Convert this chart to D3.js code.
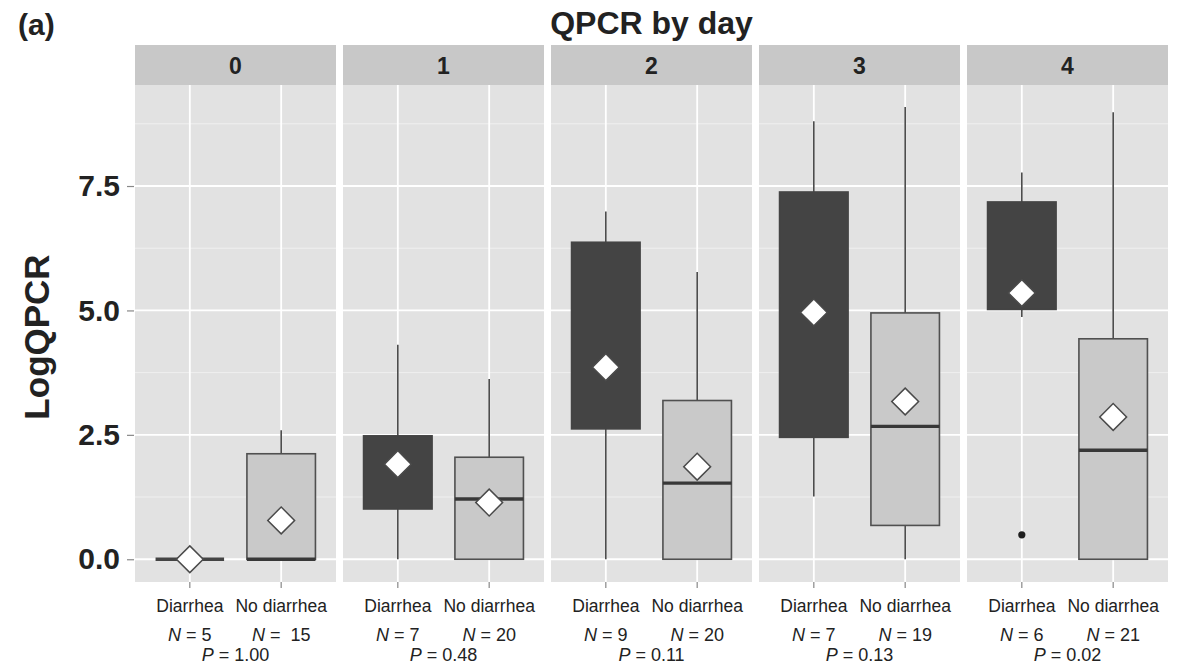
<!DOCTYPE html>
<html>
<head>
<meta charset="utf-8">
<script src="https://cdn.jsdelivr.net/npm/d3@7"></script>
<style>
  body { margin: 0; background: #fff; }
  svg { display: block; font-family: "Liberation Sans", Arial, sans-serif; }
</style>
</head>
<body>
<svg id="svg"></svg>
<script>
// facets and groups
const days = ["0", "1", "2", "3", "4"];
const groups = ["Diarrhea", "No diarrhea"];
// box stats per day: [Diarrhea, No diarrhea]
const whiskerLow = [[0, 0], [0, 0], [0, 0], [1.26, 0], [4.87, 0]];
const q1 = [[0, 0], [1.01, 0], [2.62, 0], [2.45, 0.68], [5.02, 0]];
const medians = [[0, 0], [1.7, 1.21], [4.2, 1.53], [5.3, 2.67], [5.6, 2.19]];
const q3 = [[0, 2.12], [2.48, 2.05], [6.37, 3.19], [7.38, 4.95], [7.18, 4.43]];
const whiskerHigh = [[0, 2.59], [4.31, 3.62], [6.99, 5.77], [8.80, 9.09], [7.77, 8.98]];
const means = [[0, 0.78], [1.91, 1.14], [3.86, 1.86], [4.96, 3.17], [5.35, 2.86]];
const outliers = [[[], []], [[], []], [[], []], [[], []], [[0.49], []]];
const nCounts = [["5", "15"], ["7", "20"], ["9", "20"], ["7", "19"], ["6", "21"]];
const pValues = ["1.00", "0.48", "0.11", "0.13", "0.02"];
const yTicks = [0, 2.5, 5, 7.5];
const yMinor = [1.25, 3.75, 6.25, 8.75];

const width = 1190, height = 666;
const plotTop = 85, plotBottom = 582, plotLeft = 135, plotRight = 1168;

const svg = d3.select("#svg").attr("width", width).attr("height", height);

const y = d3.scaleLinear().domain([-0.457, 9.53]).range([plotBottom, plotTop]);
const fx = d3.scaleBand().domain(days).range([plotLeft, plotRight]).paddingInner(7 / 208);
const x = d3.scalePoint().domain(groups).range([0, fx.bandwidth()]).padding(0.6);
const boxW = x.step() * 0.75;

const fill = d3.scaleOrdinal().domain(groups).range(["#444444", "#c9c9c9"]);
const edge = d3.scaleOrdinal().domain(groups).range(["#444444", "#505050"]);
const medCol = d3.scaleOrdinal().domain(groups).range(["#444444", "#383838"]);

// build rows
const rows = [];
days.forEach((d, i) => groups.forEach((g, j) => rows.push({
  day: d, group: g, lo: whiskerLow[i][j], q1: q1[i][j], med: medians[i][j],
  q3: q3[i][j], hi: whiskerHigh[i][j], mean: means[i][j], out: outliers[i][j]
})));

// title and tag
svg.append("text").attr("x", 18).attr("y", 35).attr("font-size", 30).attr("font-weight", "bold")
  .attr("fill", "#222").text("(a)");
svg.append("text").attr("x", (plotLeft + plotRight) / 2).attr("y", 34).attr("text-anchor", "middle")
  .attr("font-size", 32).attr("font-weight", "bold").attr("fill", "#222").text("QPCR by day");

// y axis title
svg.append("text").attr("transform", `translate(49,337) rotate(-90)`)
  .attr("text-anchor", "middle").attr("font-size", 35).attr("font-weight", "bold")
  .attr("fill", "#222").text("LogQPCR");

// y axis
const yAxis = svg.append("g").attr("transform", `translate(${plotLeft},0)`)
  .call(d3.axisLeft(y).tickValues(yTicks).tickFormat(d3.format(".1f")).tickSize(7).tickPadding(8));
yAxis.select(".domain").remove();
yAxis.selectAll("line").attr("stroke", "#888").attr("stroke-width", 1.2).attr("transform", "translate(-1,0)");
yAxis.selectAll("text").attr("font-size", 30).attr("font-weight", "bold").attr("fill", "#222")
  .attr("font-family", "Liberation Sans, Arial, sans-serif");

const panels = svg.selectAll("g.panel").data(days).join("g")
  .attr("class", "panel").attr("transform", d => `translate(${fx(d)},0)`);

// strips
panels.append("rect").attr("y", 45).attr("width", fx.bandwidth()).attr("height", plotTop - 45)
  .attr("fill", "#c8c8c8");
panels.append("text").attr("x", fx.bandwidth() / 2).attr("y", 74).attr("text-anchor", "middle")
  .attr("font-size", 23).attr("font-weight", "bold").attr("fill", "#222").text(d => d);

// background
panels.append("rect").attr("y", plotTop).attr("width", fx.bandwidth()).attr("height", plotBottom - plotTop)
  .attr("fill", "#e2e2e2");

// grid
panels.each(function () {
  const g = d3.select(this);
  g.selectAll("line.minor").data(yMinor).join("line").attr("class", "minor")
    .attr("x1", 0).attr("x2", fx.bandwidth()).attr("y1", d => y(d)).attr("y2", d => y(d))
    .attr("stroke", "#f2f2f2").attr("stroke-width", 0.9);
  g.selectAll("line.major").data(yTicks).join("line").attr("class", "major")
    .attr("x1", 0).attr("x2", fx.bandwidth()).attr("y1", d => y(d)).attr("y2", d => y(d))
    .attr("stroke", "#fff").attr("stroke-width", 1.8);
  g.selectAll("line.vgrid").data(groups).join("line").attr("class", "vgrid")
    .attr("x1", d => x(d)).attr("x2", d => x(d)).attr("y1", plotTop).attr("y2", plotBottom)
    .attr("stroke", "#fff").attr("stroke-width", 1.8);
  // x ticks
  g.selectAll("line.xtick").data(groups).join("line").attr("class", "xtick")
    .attr("x1", d => x(d)).attr("x2", d => x(d)).attr("y1", plotBottom).attr("y2", plotBottom + 6)
    .attr("stroke", "#888").attr("stroke-width", 1.2);
  g.selectAll("text.xlab").data(groups).join("text").attr("class", "xlab")
    .attr("x", d => x(d)).attr("y", 612).attr("text-anchor", "middle")
    .attr("font-size", 17.5).attr("fill", "#222").text(d => d);
});

// N and P labels
panels.each(function (d, i) {
  const g = d3.select(this);
  g.selectAll("text.n").data(groups).join("text").attr("class", "n")
    .attr("x", gr => x(gr)).attr("y", 641).attr("text-anchor", "middle")
    .attr("font-size", 18).attr("fill", "#222").style("white-space", "pre")
    .call(t => t.append("tspan").attr("font-style", "italic").text("N"))
    .call(t => t.append("tspan").text((gr, j) => (nCounts[i][j] === "15" ? " =  " : " = ") + nCounts[i][j]));
  g.append("text").attr("x", fx.bandwidth() / 2).attr("y", 661).attr("text-anchor", "middle")
    .attr("font-size", 18).attr("fill", "#222")
    .call(t => t.append("tspan").attr("font-style", "italic").text("P"))
    .call(t => t.append("tspan").text(" = " + pValues[i]));
});

// boxes
const boxes = svg.append("g").selectAll("g").data(rows).join("g")
  .attr("transform", d => `translate(${fx(d.day) + x(d.group)},0)`);

boxes.append("line").attr("y1", d => y(d.lo)).attr("y2", d => y(d.hi))
  .attr("stroke", "#4a4a4a").attr("stroke-width", 1.6);
boxes.filter(d => d.q3 > d.q1).append("rect")
  .attr("x", -boxW / 2).attr("width", boxW)
  .attr("y", d => y(d.q3)).attr("height", d => y(d.q1) - y(d.q3))
  .attr("fill", d => fill(d.group)).attr("stroke", d => edge(d.group)).attr("stroke-width", 1.6);
boxes.append("line").attr("x1", -boxW / 2).attr("x2", boxW / 2)
  .attr("y1", d => y(d.med)).attr("y2", d => y(d.med))
  .attr("stroke", d => medCol(d.group)).attr("stroke-width", 3.4);
boxes.selectAll("circle").data(d => d.out).join("circle")
  .attr("cy", d => y(d)).attr("r", 3.6).attr("fill", "#1e1e1e");
boxes.append("path").attr("d", d3.symbol(d3.symbolSquare, 360))
  .attr("transform", d => `translate(0,${y(d.mean)}) rotate(45)`)
  .attr("fill", "#fff").attr("stroke", "#4a4a4a").attr("stroke-width", 1.5);
</script>
</body>
</html>
